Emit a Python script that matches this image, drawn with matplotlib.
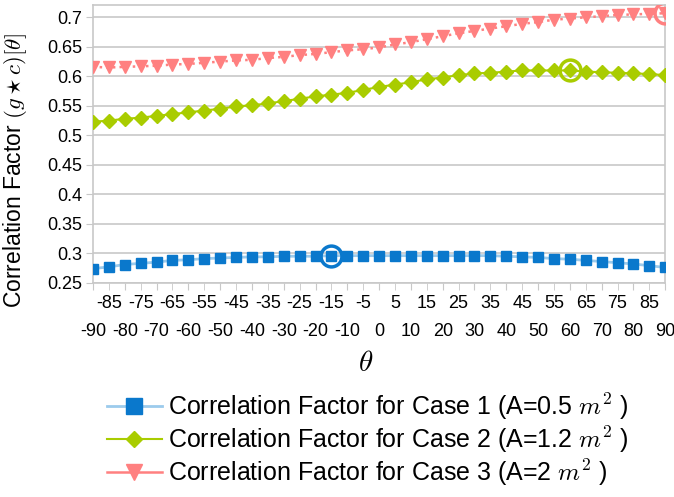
import matplotlib
matplotlib.use("Agg")
import matplotlib.pyplot as plt
from matplotlib.lines import Line2D

# --- Data ---
THETA = list(range(-90, 91, 5))

CASE1 = [0.274, 0.277, 0.281, 0.283, 0.285, 0.288, 0.289, 0.291, 0.292, 0.293,
         0.294, 0.294, 0.295, 0.295, 0.295, 0.296, 0.296, 0.296, 0.296, 0.296,
         0.296, 0.296, 0.296, 0.296, 0.296, 0.296, 0.295, 0.294, 0.293, 0.291,
         0.290, 0.288, 0.286, 0.284, 0.282, 0.279, 0.276]
CASE2 = [0.523, 0.525, 0.528, 0.530, 0.533, 0.536, 0.539, 0.542, 0.545, 0.549,
         0.551, 0.554, 0.558, 0.562, 0.566, 0.569, 0.572, 0.577, 0.582, 0.586,
         0.590, 0.595, 0.598, 0.602, 0.605, 0.606, 0.608, 0.610, 0.610, 0.610,
         0.610, 0.608, 0.607, 0.606, 0.605, 0.604, 0.602]
CASE3 = [0.616, 0.615, 0.616, 0.617, 0.618, 0.620, 0.621, 0.623, 0.625, 0.627,
         0.628, 0.631, 0.633, 0.636, 0.638, 0.641, 0.644, 0.646, 0.649, 0.654,
         0.658, 0.663, 0.668, 0.673, 0.677, 0.681, 0.685, 0.689, 0.692, 0.696,
         0.698, 0.700, 0.702, 0.704, 0.705, 0.706, 0.707]

LABELS = [
    r"Correlation Factor for Case 1 (A=0.5 $m^2$ )",
    r"Correlation Factor for Case 2 (A=1.2 $m^2$ )",
    r"Correlation Factor for Case 3 (A=2 $m^2$ )",
]

YTICKS = [0.25, 0.3, 0.35, 0.4, 0.45, 0.5, 0.55, 0.6, 0.65, 0.7]

# highlighted maxima (theta, value)
PEAKS = [(-15, 0.296), (60, 0.610), (90, 0.707)]

BLUE = "#0a78cc"
BLUE_LINE = "#9ccbec"
GREEN = "#a9cc00"
PINK = "#ff8080"
GRID = "#c8c8c8"

plt.rcParams.update({
    "font.family": ["Liberation Sans", "DejaVu Sans"],
    "mathtext.fontset": "cm",
})

fig = plt.figure(figsize=(6.74, 4.97), dpi=100)
ax = fig.add_axes([0.138, 0.431, 0.849, 0.559])

ax.plot(THETA, CASE1, color=BLUE_LINE, lw=2, zorder=3)
ax.plot(THETA, CASE1, ls="none", marker="s", ms=7, color=BLUE, zorder=4)
ax.plot(THETA, CASE2, color=GREEN, lw=1.5, marker="D", ms=7, zorder=4)
ax.plot(THETA, CASE3, color=PINK, lw=1.8, ls=":", marker="v", ms=8, zorder=4)

for (px, py), c in zip(PEAKS, [BLUE, GREEN, PINK]):
    ax.plot(px, py, marker="o", ms=15, mfc="none", mec=c, mew=2.5, zorder=5)

ax.set_xlim(-90, 90)
ax.set_ylim(0.25, 0.721)
ax.set_yticks(YTICKS)
ax.set_yticklabels([f"{v:g}" for v in YTICKS])
ax.grid(axis="y", color=GRID, lw=1.2)
ax.set_axisbelow(True)

# staggered tick labels: odd values on the upper row, even on the lower
evens = list(range(-90, 91, 10))
odds = list(range(-85, 90, 10))
ax.set_xticks(evens)
ax.set_xticklabels([str(v) for v in evens])
ax.set_xticks(odds, minor=True)
ax.set_xticklabels([str(v) for v in odds], minor=True)
ax.tick_params(axis="x", which="major", pad=24, length=5, color=GRID,
               labelsize=13)
ax.tick_params(axis="x", which="minor", pad=4, length=5, color=GRID,
               labelsize=13)
ax.tick_params(axis="y", length=5, pad=3, color=GRID, labelsize=13)

for side in ["left", "right", "bottom", "top"]:
    ax.spines[side].set_color(GRID)
    ax.spines[side].set_linewidth(1.2)

ax.set_xlabel(r"$\theta$", fontsize=21)
ax.xaxis.set_label_coords(0.476, -0.237)
ax.set_ylabel(r"Correlation Factor $(g\star c)[\theta]$", fontsize=16.5)
ax.yaxis.set_label_coords(-0.112, 0.405)

handles = [
    Line2D([], [], color=BLUE_LINE, lw=2, marker="s", ms=11, mfc=BLUE, mec=BLUE),
    Line2D([], [], color=GREEN, lw=1.5, marker="D", ms=8),
    Line2D([], [], color=PINK, lw=1.8, marker="v", ms=11),
]
fig.legend(handles, LABELS, loc="center", bbox_to_anchor=(0.545, 0.115),
           frameon=False, fontsize=18, handlelength=2.2, handletextpad=0.25,
           labelspacing=0.1)

fig.savefig("out.png", dpi=100)
